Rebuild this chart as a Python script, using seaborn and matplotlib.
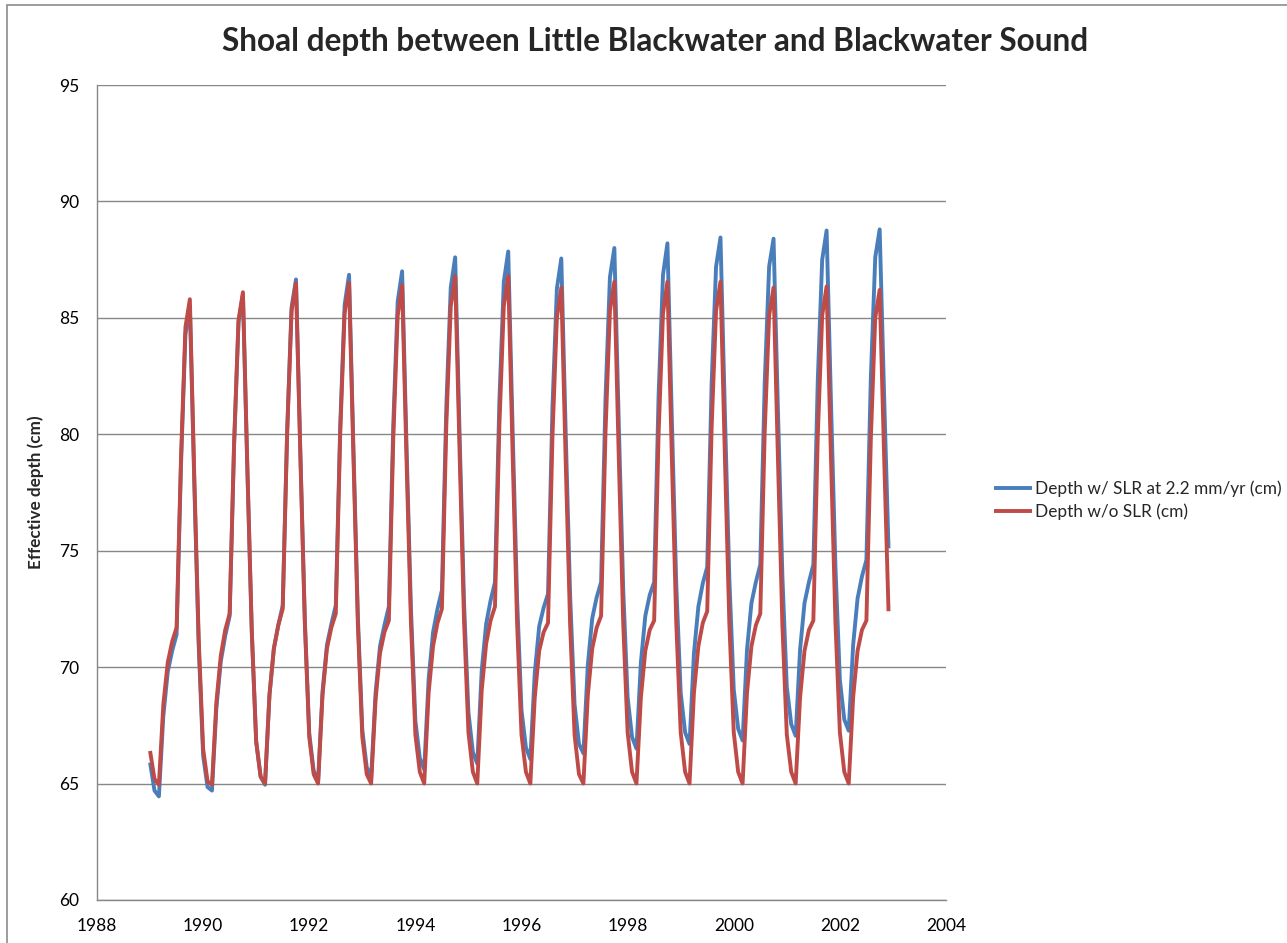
import numpy as np
import pandas as pd
import matplotlib
matplotlib.use("Agg")
import matplotlib.pyplot as plt
import matplotlib.patches as mpatches
import seaborn as sns

# ---------------- data (monthly, Jan 1989 - Dec 2002) ----------------
years = list(range(1989, 2003))

depth_no_slr = [
    [66.4, 65.2, 64.95, 68.4, 70.2, 71.1, 71.7, 79.0, 84.6, 85.8, 78.2, 71.2],   # 1989
    [66.5, 65.1, 64.95, 68.5, 70.5, 71.6, 72.3, 79.6, 84.9, 86.1, 78.6, 71.6],   # 1990
    [66.8, 65.3, 65.0, 68.8, 70.8, 71.8, 72.5, 80.0, 85.3, 86.5, 79.0, 71.9],    # 1991
    [67.0, 65.4, 65.0, 68.8, 70.8, 71.7, 72.3, 80.0, 85.2, 86.5, 79.0, 71.8],    # 1992
    [67.0, 65.4, 65.0, 68.6, 70.6, 71.5, 72.0, 79.8, 85.1, 86.4, 78.9, 71.9],    # 1993
    [67.1, 65.5, 65.0, 68.9, 70.9, 71.9, 72.5, 80.4, 85.5, 86.8, 79.2, 72.0],    # 1994
    [67.2, 65.5, 65.0, 69.0, 71.0, 72.0, 72.6, 80.4, 85.5, 86.8, 79.1, 71.9],    # 1995
    [67.1, 65.5, 65.0, 68.7, 70.7, 71.5, 71.9, 79.9, 85.0, 86.3, 78.8, 71.8],    # 1996
    [67.1, 65.4, 65.0, 68.8, 70.8, 71.7, 72.2, 80.1, 85.3, 86.55, 79.0, 71.9],   # 1997
    [67.2, 65.5, 65.0, 68.7, 70.7, 71.6, 72.0, 80.0, 85.2, 86.55, 79.0, 71.9],   # 1998
    [67.2, 65.5, 65.0, 68.9, 70.9, 71.9, 72.4, 80.3, 85.3, 86.55, 79.0, 71.9],   # 1999
    [67.2, 65.5, 65.0, 68.9, 70.9, 71.8, 72.3, 80.1, 85.1, 86.3, 78.9, 71.8],    # 2000
    [67.1, 65.5, 65.0, 68.7, 70.7, 71.6, 72.0, 79.9, 85.1, 86.35, 78.9, 71.9],   # 2001
    [67.2, 65.5, 65.0, 68.7, 70.7, 71.6, 72.0, 79.8, 85.0, 86.2, 79.1, 72.4],    # 2002
]

depth_slr = [
    [65.9, 64.7, 64.45, 67.9, 69.8, 70.7, 71.4, 78.7, 84.3, 85.5, 77.9, 70.9],        # 1989
    [66.2, 64.85, 64.7, 68.25, 70.25, 71.35, 72.2, 79.5, 84.8, 86.0, 78.5, 71.5],     # 1990
    [66.8, 65.3, 64.95, 68.8, 70.8, 71.8, 72.65, 80.15, 85.45, 86.65, 79.15, 72.05],  # 1991
    [67.15, 65.55, 65.1, 68.95, 70.95, 71.85, 72.65, 80.35, 85.55, 86.85, 79.35, 72.15],  # 1992
    [67.3, 65.7, 65.3, 68.9, 70.9, 71.8, 72.6, 80.4, 85.7, 87.0, 79.5, 72.5],          # 1993
    [67.7, 66.1, 65.6, 69.5, 71.5, 72.5, 73.3, 81.2, 86.3, 87.6, 80.0, 72.8],          # 1994
    [68.05, 66.35, 65.85, 69.85, 71.85, 72.85, 73.65, 81.45, 86.55, 87.85, 80.15, 72.95],  # 1995
    [68.15, 66.55, 66.05, 69.75, 71.75, 72.55, 73.15, 81.15, 86.25, 87.55, 80.05, 73.05],  # 1996
    [68.4, 66.7, 66.3, 70.1, 72.1, 73.0, 73.65, 81.55, 86.75, 88.0, 80.45, 73.35],     # 1997
    [68.7, 67.0, 66.5, 70.2, 72.2, 73.1, 73.65, 81.65, 86.85, 88.2, 80.65, 73.55],     # 1998
    [68.9, 67.2, 66.7, 70.6, 72.6, 73.6, 74.3, 82.2, 87.2, 88.45, 80.9, 73.8],         # 1999
    [69.05, 67.35, 66.85, 70.75, 72.75, 73.65, 74.4, 82.2, 87.2, 88.4, 81.0, 73.9],    # 2000
    [69.15, 67.55, 67.05, 70.75, 72.75, 73.65, 74.4, 82.3, 87.5, 88.75, 81.3, 74.3],   # 2001
    [69.45, 67.75, 67.27, 70.95, 72.95, 73.9, 74.6, 82.4, 87.6, 88.8, 81.7, 75.1],     # 2002
]

label_slr = "Depth w/ SLR at 2.2 mm/yr (cm)"
label_no_slr = "Depth w/o SLR (cm)"
title = "Shoal depth between Little Blackwater and Blackwater Sound"
ylabel = "Effective depth (cm)"
x_ticks = [1988, 1990, 1992, 1994, 1996, 1998, 2000, 2002, 2004]
y_ticks = [60, 65, 70, 75, 80, 85, 90, 95]

# ---------------- build long table ----------------
rows = []
for yi, yr in enumerate(years):
    for m in range(12):
        t = yr + m / 12.0
        rows.append({"time": t, "depth": depth_slr[yi][m], "series": label_slr})
for yi, yr in enumerate(years):
    for m in range(12):
        t = yr + m / 12.0
        rows.append({"time": t, "depth": depth_no_slr[yi][m], "series": label_no_slr})
df = pd.DataFrame(rows)

# ---------------- style ----------------
sns.set_style("white")
plt.rcParams["font.family"] = ["Lato", "DejaVu Sans"]

W, H = 1287, 943
fig = plt.figure(figsize=(W / 100, H / 100), dpi=100)
ax = fig.add_axes([97 / W, 1 - 900 / H, (946 - 97) / W, (900 - 85) / H])

grid_col = "#878787"
palette = {label_slr: "#4A7EBB", label_no_slr: "#BE4B48"}

sns.lineplot(data=df, x="time", y="depth", hue="series", palette=palette,
             hue_order=[label_slr, label_no_slr], linewidth=2.8, ax=ax,
             legend=True, solid_joinstyle="round", solid_capstyle="butt")

ax.set_xlim(1988, 2004)
ax.set_ylim(60, 95)
ax.set_xticks(x_ticks)
ax.set_yticks(y_ticks)
ax.set_xticklabels([str(v) for v in x_ticks])
ax.set_yticklabels([str(v) for v in y_ticks])
ax.tick_params(axis="both", length=0, labelsize=12.5, colors="#000000")
ax.tick_params(axis="y", pad=13)
ax.tick_params(axis="x", pad=13)

ax.yaxis.grid(True, color=grid_col, linewidth=1.0)
ax.xaxis.grid(False)
ax.set_axisbelow(True)
for s in ["top", "right"]:
    ax.spines[s].set_visible(False)
for s in ["left", "bottom"]:
    ax.spines[s].set_color(grid_col)
    ax.spines[s].set_linewidth(1.0)

ax.set_xlabel("")
ax.set_ylabel(ylabel, fontsize=12.3, fontweight="bold")
ax.yaxis.set_label_coords((44 - 97) / (946 - 97), 0.5)

# legend
handles, labels = ax.get_legend_handles_labels()
ax.get_legend().remove()
leg = fig.legend(handles, labels, loc="center left",
                 bbox_to_anchor=(994 / W, 1 - 500.5 / H), frameon=False,
                 fontsize=12.4, handlelength=2.2, handletextpad=0.2,
                 labelspacing=0.35, borderpad=0, borderaxespad=0)
for lh in leg.get_lines():
    lh.set_linewidth(2.8)

fig.text(655 / W, 1 - 42 / H, title, ha="center", va="center",
         fontsize=22.8, fontweight="bold")

# outer chart border (Excel chart area)
fig.patches.append(mpatches.Rectangle((6.5 / W, -0.05), 2.0, 1.05 - 5 / H,
                                      transform=fig.transFigure, fill=False,
                                      edgecolor="#8c8c8c", linewidth=1.2))

fig.savefig("out.png", dpi=100)
